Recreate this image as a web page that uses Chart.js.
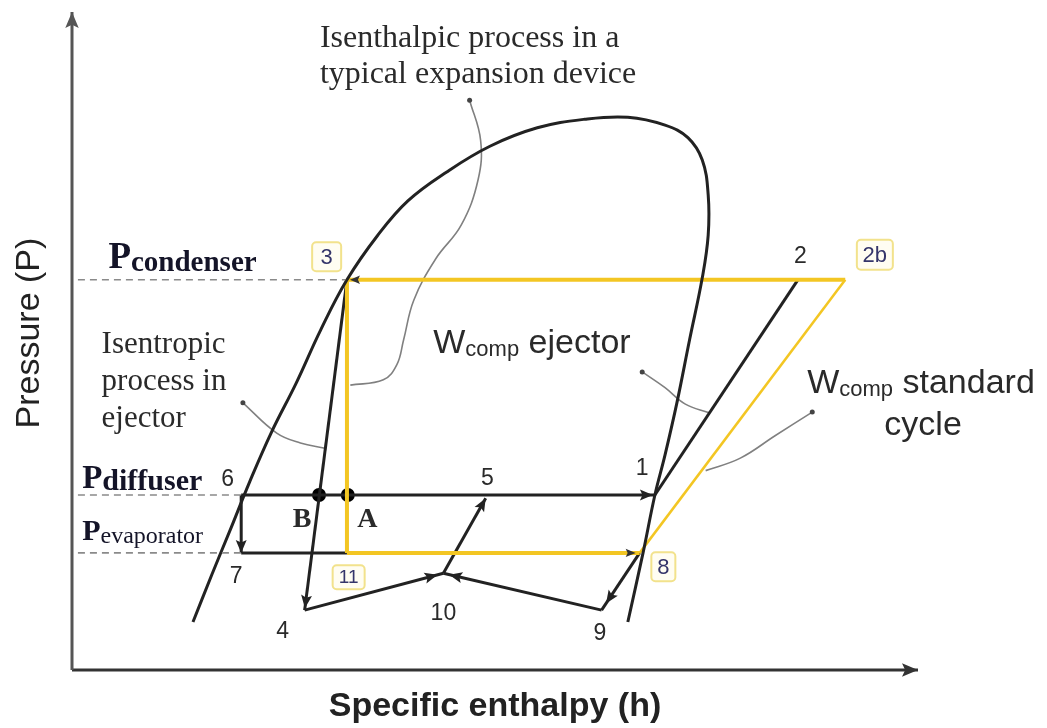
<!DOCTYPE html>
<html lang="en">
  <head>
    <meta charset="utf-8" />
    <style>
      * {
        margin: 0;
        padding: 0;
      }
      body {
        background: #fff;
      }
      .chartBox {
        width: 1047px;
        height: 728px;
      }
    </style>
  </head>
  <body>
    <div class="chartBox">
      <canvas id="myChart"></canvas>
    </div>
    <script src="https://cdn.jsdelivr.net/npm/chart.js/dist/chart.umd.min.js"></script>
    <script>
      // state points of the ejector cycle (h and P in arbitrary units)
      const stateNames = ["1", "2", "2b", "3", "4", "5", "6", "7", "8", "9", "10", "11", "A", "B"];
      const stateH = [68.9, 85.8, 91.4, 32.5, 27.5, 48.9, 20.0, 20.0, 67.1, 62.6, 43.9, 32.5, 32.6, 29.2];
      const stateP = [26.6, 59.3, 59.3, 59.3, 9.1, 26.1, 26.6, 17.8, 17.8, 9.1, 14.7, 17.8, 26.6, 26.6];

      // saturation dome
      const domeH = [14.3, 16.5, 18.8, 21.0, 23.6, 26.5, 29.4, 32.5, 36.1, 39.7, 44.3, 49.4, 55.0, 60.6, 65.7, 70.1, 72.8, 74.5, 75.2, 75.2, 74.5, 73.0, 71.5, 70.1, 68.9, 67.5, 65.7];
      const domeP = [7.3, 14.4, 21.6, 28.6, 36.2, 43.6, 51.7, 59.3, 66.0, 71.3, 75.7, 79.6, 82.4, 83.7, 84.0, 82.8, 80.9, 77.5, 72.2, 66.1, 59.6, 50.2, 40.6, 32.7, 26.6, 17.8, 7.3];

      // pressure levels (dashed guides)
      const levelNames = ["condenser", "diffuser", "evaporator"];
      const levelP = [59.3, 26.6, 17.8];
      const levelEndH = [32.3, 20.0, 20.0];

      // leader curves for the notes
      const leaderIsenthalpicH = [47.0, 48.3, 48.0, 46.0, 43.0, 40.4, 39.2, 38.4, 36.8, 32.9];
      const leaderIsenthalpicP = [86.6, 80.5, 74.5, 67.6, 62.5, 56.2, 50.2, 46.4, 44.1, 43.3];
      const leaderIsentropicH = [20.2, 24.2, 27.0, 29.9];
      const leaderIsentropicP = [40.6, 36.0, 34.5, 33.7];
      const leaderEjectorH = [67.4, 70.1, 72.5, 75.3];
      const leaderEjectorP = [45.3, 42.9, 40.4, 39.1];
      const leaderStandardH = [87.5, 83.1, 79.0, 74.9];
      const leaderStandardP = [39.2, 35.6, 32.2, 30.3];

      const BLACK = "#222";
      const YELLOW = "#f3c623";
      const GREY = "#808080";
      const SERIF = "'Liberation Serif', 'DejaVu Serif', serif";
      const SANS = "'Liberation Sans', Arial, sans-serif";

      const pt = (n) => {
        const i = stateNames.indexOf(n);
        return { x: stateH[i], y: stateP[i] };
      };
      const zip = (hs, ps) => hs.map((h, i) => ({ x: h, y: ps[i] }));

      function path(points, extra) {
        return Object.assign(
          {
            data: points,
            showLine: true,
            pointRadius: 0,
            borderWidth: 3,
            borderColor: BLACK,
            backgroundColor: BLACK,
            tension: 0,
            fill: false,
            clip: false,
          },
          extra
        );
      }
      function leader(hs, ps) {
        return path(zip(hs, ps), {
          borderColor: GREY,
          borderWidth: 1.6,
          tension: 0.4,
          pointRadius: hs.map((_, i) => (i === 0 ? 2.5 : 0)),
          pointBackgroundColor: "#444",
          pointBorderWidth: 0,
        });
      }

      const datasets = [
        // axes
        path([{ x: 0, y: 0 }, { x: 0, y: 100 }], { borderColor: "#555", arrow: { size: 16 } }),
        path([{ x: 0, y: 0 }, { x: 100, y: 0 }], { borderColor: "#333", arrow: { size: 16 } }),
        // dashed pressure guides
        ...levelP.map((p, i) =>
          path([{ x: 0.7, y: p }, { x: levelEndH[i], y: p }], {
            borderColor: "#8a8a8a",
            borderWidth: 1.6,
            borderDash: [7, 5],
          })
        ),
        // saturation dome
        path(zip(domeH, domeP), { tension: 0.4 }),
        // standard cycle (yellow)
        path([pt("2b"), pt("3")], { borderColor: YELLOW, borderWidth: 4, arrow: { size: 10, color: "#333", back: 3 } }),
        path([pt("3"), pt("11")], { borderColor: YELLOW, borderWidth: 4 }),
        path([pt("11"), pt("8")], { borderColor: YELLOW, borderWidth: 4, arrow: { size: 10, color: "#333", back: 4 } }),
        path([pt("8"), pt("2b")], { borderColor: YELLOW, borderWidth: 2.5 }),
        // ejector cycle (black)
        path([pt("6"), pt("1")], { arrow: { back: 2 } }),
        path([pt("6"), pt("7")], { arrow: {} }),
        path([pt("7"), pt("11")]),
        path([pt("3"), pt("4")], { arrow: { back: 2 } }),
        path([pt("4"), pt("10")], { arrow: { back: 6 } }),
        path([pt("9"), pt("10")], { arrow: { back: 6 } }),
        path([pt("8"), pt("9")], { arrow: { back: 8 } }),
        path([pt("10"), pt("5")], { arrow: {} }),
        path([pt("1"), pt("2")]),
        // leaders
        leader(leaderIsenthalpicH, leaderIsenthalpicP),
        leader(leaderIsentropicH, leaderIsentropicP),
        leader(leaderEjectorH, leaderEjectorP),
        leader(leaderStandardH, leaderStandardP),
        // points A and B
        {
          data: [pt("A"), pt("B")],
          showLine: false,
          pointRadius: 7,
          pointBackgroundColor: "#000",
          pointBorderWidth: 0,
          clip: false,
        },
      ];

      // text notes, positioned in data units (baseline)
      const notes = [
        { h: 29.3, p: 94.7, parts: [["Isenthalpic process in a", "32px " + SERIF]] },
        { h: 29.3, p: 89.2, parts: [["typical expansion device", "32px " + SERIF]] },
        { h: 3.5, p: 48.2, parts: [["Isentropic", "31px " + SERIF]] },
        { h: 3.5, p: 42.6, parts: [["process in", "31px " + SERIF]] },
        { h: 3.5, p: 36.9, parts: [["ejector", "31px " + SERIF]] },
        { h: 42.7, p: 48.2, parts: [["W", "34px " + SANS], ["comp", "22px " + SANS, 3], [" ejector", "34px " + SANS]] },
        { h: 86.9, p: 42.1, parts: [["W", "34px " + SANS], ["comp", "22px " + SANS, 3], [" standard", "34px " + SANS]] },
        { h: 100.6, p: 35.7, align: "center", parts: [["cycle", "34px " + SANS]] },
        { h: 4.3, p: 61.1, color: "#141428", parts: [["P", "bold 37px " + SERIF], [levelNames[0], "bold 29px " + SERIF, 3]] },
        { h: 1.2, p: 27.7, color: "#141428", parts: [["P", "bold 33px " + SERIF], [levelNames[1], "bold 30px " + SERIF, 2]] },
        { h: 1.2, p: 19.8, color: "#141428", parts: [["P", "bold 30px " + SERIF], [levelNames[2], "24px " + SERIF, 3]] },
        { h: 34.9, p: 21.7, align: "center", parts: [["A", "bold 28px " + SERIF]] },
        { h: 27.2, p: 21.7, align: "center", parts: [["B", "bold 28px " + SERIF]] },
        { h: 67.4, p: 29.6, align: "center", parts: [["1", "23px " + SANS]] },
        { h: 86.1, p: 61.9, align: "center", parts: [["2", "23px " + SANS]] },
        { h: 49.1, p: 28.1, align: "center", parts: [["5", "23px " + SANS]] },
        { h: 18.4, p: 28.0, align: "center", parts: [["6", "23px " + SANS]] },
        { h: 19.4, p: 13.2, align: "center", parts: [["7", "23px " + SANS]] },
        { h: 24.9, p: 4.9, align: "center", parts: [["4", "23px " + SANS]] },
        { h: 43.9, p: 7.6, align: "center", parts: [["10", "23px " + SANS]] },
        { h: 62.4, p: 4.6, align: "center", parts: [["9", "23px " + SANS]] },
      ];

      // boxed state labels (centre in data units, box size in px)
      const boxes = [
        { text: "3", h: 30.1, p: 62.8, w: 29, ht: 29, font: "22px " + SANS },
        { text: "2b", h: 94.9, p: 63.1, w: 36, ht: 30, font: "22px " + SANS },
        { text: "11", h: 32.7, p: 14.1, w: 32, ht: 24, font: "19px " + SANS },
        { text: "8", h: 69.9, p: 15.7, w: 24, ht: 29, font: "22px " + SANS },
      ];

      const arrowPlugin = {
        id: "arrows",
        afterDatasetsDraw(chart) {
          const ctx = chart.ctx;
          chart.data.datasets.forEach((ds, i) => {
            if (!ds.arrow) return;
            const pts = chart.getDatasetMeta(i).data;
            const a = pts[pts.length - 2];
            const b = pts[pts.length - 1];
            const ang = Math.atan2(b.y - a.y, b.x - a.x);
            const len = ds.arrow.size || 13;
            const w = len * 0.42;
            const back = ds.arrow.back || 0;
            ctx.save();
            ctx.translate(b.x - Math.cos(ang) * back, b.y - Math.sin(ang) * back);
            ctx.rotate(ang);
            ctx.beginPath();
            ctx.moveTo(0, 0);
            ctx.lineTo(-len, w);
            ctx.lineTo(-len * 0.8, 0);
            ctx.lineTo(-len, -w);
            ctx.closePath();
            ctx.fillStyle = ds.arrow.color || ds.borderColor;
            ctx.fill();
            ctx.restore();
          });
        },
      };

      const notesPlugin = {
        id: "notes",
        afterDraw(chart) {
          const ctx = chart.ctx;
          const xs = chart.scales.x;
          const ys = chart.scales.y;
          const area = chart.chartArea;
          ctx.save();
          ctx.textBaseline = "alphabetic";
          ctx.textAlign = "left";
          notes.forEach((n) => {
            let total = 0;
            n.parts.forEach(([t, f]) => {
              ctx.font = f;
              total += ctx.measureText(t).width;
            });
            let x = xs.getPixelForValue(n.h);
            if (n.align === "center") x -= total / 2;
            const y = ys.getPixelForValue(n.p);
            ctx.fillStyle = n.color || "#2a2a2a";
            n.parts.forEach(([t, f, dy]) => {
              ctx.font = f;
              ctx.fillText(t, x, y + (dy || 0));
              x += ctx.measureText(t).width;
            });
          });

          ctx.textAlign = "center";
          ctx.textBaseline = "middle";
          boxes.forEach((b) => {
            const cx = xs.getPixelForValue(b.h);
            const cy = ys.getPixelForValue(b.p);
            ctx.beginPath();
            ctx.roundRect(cx - b.w / 2, cy - b.ht / 2, b.w, b.ht, 4);
            ctx.fillStyle = "#fffdf2";
            ctx.fill();
            ctx.lineWidth = 2;
            ctx.strokeStyle = "#f2e28c";
            ctx.stroke();
            ctx.fillStyle = "#35356a";
            ctx.font = b.font;
            ctx.fillText(b.text, cx, cy + 1);
          });

          // axis titles
          ctx.fillStyle = "#222";
          ctx.font = "bold 34px " + SANS;
          ctx.fillText("Specific enthalpy (h)", xs.getPixelForValue(50), area.bottom + 37);
          ctx.translate(area.left - 42, ys.getPixelForValue(51.2));
          ctx.rotate(-Math.PI / 2);
          ctx.font = "34px " + SANS;
          ctx.fillText("Pressure (P)", 0, 0);
          ctx.restore();
        },
      };

      const config = {
        type: "scatter",
        data: { datasets },
        options: {
          responsive: true,
          maintainAspectRatio: false,
          animation: false,
          layout: { padding: { left: 72, right: 129, top: 12, bottom: 58 } },
          scales: {
            x: { type: "linear", min: 0, max: 100, display: false },
            y: { type: "linear", min: 0, max: 100, display: false },
          },
          plugins: {
            legend: { display: false },
            tooltip: { enabled: false },
          },
        },
        plugins: [arrowPlugin, notesPlugin],
      };

      const myChart = new Chart(document.getElementById("myChart"), config);
    </script>
  </body>
</html>
